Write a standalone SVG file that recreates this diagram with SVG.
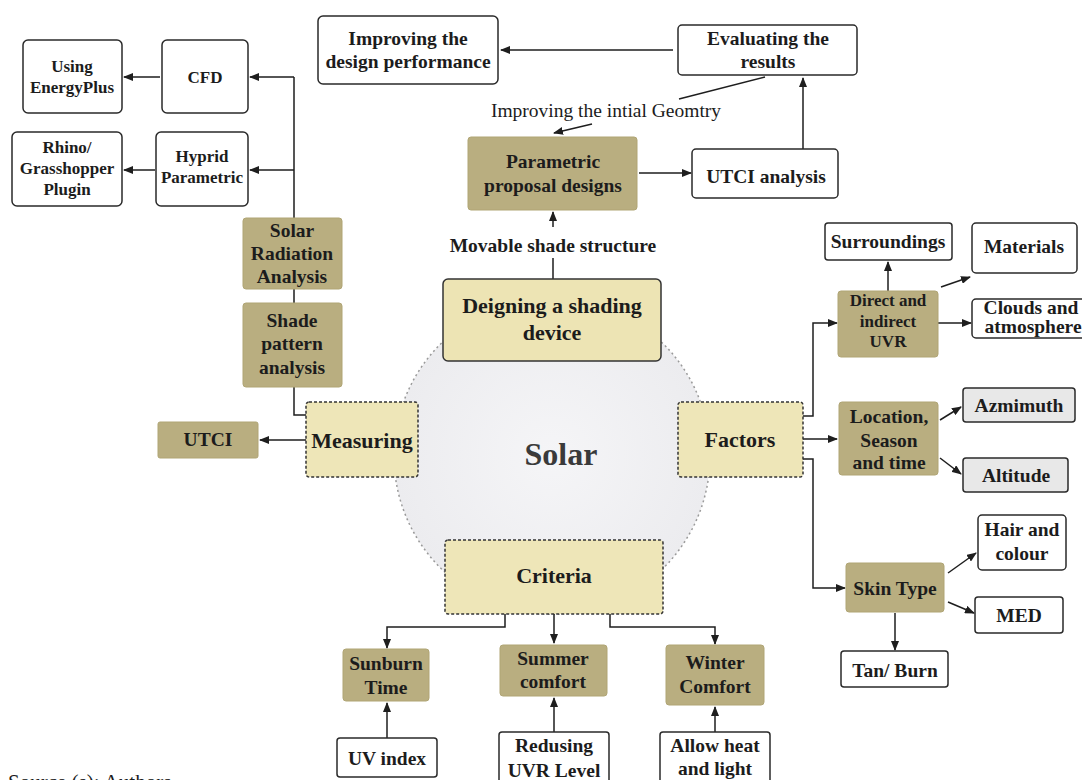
<svg xmlns="http://www.w3.org/2000/svg" width="1082" height="780" viewBox="0 0 1082 780">
<defs>
<marker id="ar" markerUnits="userSpaceOnUse" markerWidth="10" markerHeight="8" refX="9" refY="4" orient="auto">
<path d="M0,0 L10,4 L0,8 z" fill="#1e1e1e"/>
</marker>
<radialGradient id="cg" cx="0.5" cy="0.5" r="0.5">
<stop offset="0" stop-color="#f5f5f7"/>
<stop offset="1" stop-color="#ececef"/>
</radialGradient>
<style>
text{font-family:"Liberation Serif","Times New Roman",serif;font-weight:bold;fill:#1c1c1c;text-anchor:middle}
.t{font-size:19.5px}
.s{font-size:17px}
.b{font-size:22px}
.r{font-weight:normal}
.w{fill:#fff;stroke:#2a2a2a;stroke-width:1.5}
.g{fill:#e8e8e8;stroke:#2a2a2a;stroke-width:1.5}
.k{fill:#b9ae80;stroke:#b0a575;stroke-width:1}
.y{fill:#eee6b8;stroke:#333;stroke-width:1.5;stroke-dasharray:3 2}
.ys{fill:#ede4b4;stroke:#333;stroke-width:1.5}
#connectors path{fill:none;stroke:#1e1e1e;stroke-width:1.5}
#connectors .a{marker-end:url(#ar)}
</style>
</defs>
<rect width="1082" height="780" fill="#ffffff"/>

<g id="circle">
<circle cx="552" cy="456" r="158" fill="url(#cg)" stroke="#9a9a9a" stroke-width="1.5" stroke-dasharray="2 3"/>
<text x="561" y="465" style="font-size:32px;fill:#3a3a3a">Solar</text>
</g>

<g id="connectors">
<path class="a" d="M673,50 L501,50"/>
<path d="M765,77 L679,99"/>
<path class="a" d="M592,124 L554,133"/>
<path class="a" d="M803,149 L803,78"/>
<path class="a" d="M639,173 L691,173"/>
<path d="M553,279 L553,258"/>
<path class="a" d="M553,227 L553,212"/>
<path d="M294,77 L294,218 M294,289 L294,303 M294,387 L294,415 L306,415"/>
<path class="a" d="M294,77 L250,77"/>
<path class="a" d="M294,170 L250,170"/>
<path class="a" d="M160,77 L124,77"/>
<path class="a" d="M155,170 L124,170"/>
<path class="a" d="M306,440 L260,440"/>
<path class="a" d="M803,416 L813,416 L813,323 L837,323"/>
<path class="a" d="M803,439 L837,439"/>
<path class="a" d="M803,459 L813,459 L813,588 L845,588"/>
<path class="a" d="M888,291 L888,262"/>
<path class="a" d="M941,287 L970,277"/>
<path class="a" d="M938,323 L971,323"/>
<path class="a" d="M940,420 L961,407"/>
<path class="a" d="M940,458 L961,474"/>
<path class="a" d="M948,573 L976,553"/>
<path class="a" d="M948,602 L974,613"/>
<path class="a" d="M895,613 L895,650"/>
<path class="a" d="M505,614 L505,627 L387,627 L387,648"/>
<path class="a" d="M554,614 L554,643"/>
<path class="a" d="M610,614 L610,627 L715,627 L715,644"/>
<path class="a" d="M387,738 L387,703"/>
<path class="a" d="M554,732 L554,698"/>
<path class="a" d="M715,732 L715,707"/>
</g>

<g id="improving-design">
<rect class="w" x="318" y="16" width="180" height="68" rx="5"/>
<text class="t" x="408" y="45">Improving the</text>
<text class="t" x="408" y="68">design performance</text>
</g>
<g id="evaluating">
<rect class="w" x="678" y="25" width="179" height="50" rx="4"/>
<text class="t" x="768" y="45">Evaluating the</text>
<text class="t" x="768" y="68">results</text>
</g>
<g id="geometry-label">
<text class="t r" x="606" y="117">Improving the intial Geomtry</text>
</g>
<g id="parametric">
<rect class="k" x="468" y="137" width="169" height="73" rx="3"/>
<text class="t" x="553" y="168">Parametric</text>
<text class="t" x="553" y="192">proposal designs</text>
</g>
<g id="utci-analysis">
<rect class="w" x="692" y="149" width="146" height="49" rx="4"/>
<text class="t" x="766" y="183">UTCI analysis</text>
</g>
<g id="movable-label">
<text class="t" x="553" y="252">Movable shade structure</text>
</g>
<g id="deigning">
<rect class="ys" x="443" y="279" width="218" height="82" rx="5"/>
<text class="b" x="552" y="313">Deigning a shading</text>
<text class="b" x="552" y="340">device</text>
</g>

<g id="using-energyplus">
<rect class="w" x="23" y="40" width="99" height="73" rx="5"/>
<text class="s" x="72" y="72">Using</text>
<text class="s" x="72" y="93">EnergyPlus</text>
</g>
<g id="cfd">
<rect class="w" x="162" y="40" width="86" height="73" rx="5"/>
<text class="s" x="205" y="83">CFD</text>
</g>
<g id="rhino">
<rect class="w" x="12" y="132" width="110" height="74" rx="5"/>
<text class="s" x="67" y="153">Rhino/</text>
<text class="s" x="67" y="174">Grasshopper</text>
<text class="s" x="67" y="195">Plugin</text>
</g>
<g id="hyprid">
<rect class="w" x="156" y="132" width="92" height="74" rx="5"/>
<text class="s" x="202" y="162">Hyprid</text>
<text class="s" x="202" y="183">Parametric</text>
</g>
<g id="solar-radiation">
<rect class="k" x="243" y="218" width="99" height="71" rx="3"/>
<text class="t" x="292" y="237">Solar</text>
<text class="t" x="292" y="260">Radiation</text>
<text class="t" x="292" y="283">Analysis</text>
</g>
<g id="shade-pattern">
<rect class="k" x="243" y="303" width="99" height="84" rx="3"/>
<text class="t" x="292" y="327">Shade</text>
<text class="t" x="292" y="350">pattern</text>
<text class="t" x="292" y="374">analysis</text>
</g>
<g id="measuring">
<rect class="y" x="306" y="402" width="112" height="75" rx="3"/>
<text class="b" x="362" y="448">Measuring</text>
</g>
<g id="utci">
<rect class="k" x="158" y="422" width="100" height="36" rx="2"/>
<text class="t" x="208" y="446">UTCI</text>
</g>

<g id="factors">
<rect class="y" x="678" y="402" width="125" height="75" rx="3"/>
<text class="b" x="740" y="447">Factors</text>
</g>
<g id="surroundings">
<rect class="w" x="825" y="223" width="127" height="37" rx="3"/>
<text class="t" x="888" y="248">Surroundings</text>
</g>
<g id="materials">
<rect class="w" x="972" y="223" width="105" height="50" rx="4"/>
<text class="t" x="1024" y="253">Materials</text>
</g>
<g id="direct-uvr">
<rect class="k" x="838" y="291" width="100" height="66" rx="3"/>
<text class="s" x="888" y="306">Direct and</text>
<text class="s" x="888" y="327">indirect</text>
<text class="s" x="888" y="347">UVR</text>
</g>
<g id="clouds">
<rect class="w" x="972" y="299" width="116" height="39" rx="4"/>
<text class="t" x="1031" y="314">Clouds and</text>
<text class="t" x="1033" y="333">atmosphere</text>
</g>
<g id="location">
<rect class="k" x="839" y="402" width="99" height="73" rx="3"/>
<text class="t" x="889" y="423">Location,</text>
<text class="t" x="889" y="447">Season</text>
<text class="t" x="889" y="469">and time</text>
</g>
<g id="azmimuth">
<rect class="g" x="963" y="388" width="112" height="34" rx="3"/>
<text class="t" x="1019" y="412">Azmimuth</text>
</g>
<g id="altitude">
<rect class="g" x="963" y="458" width="105" height="34" rx="3"/>
<text class="t" x="1016" y="482">Altitude</text>
</g>
<g id="skin-type">
<rect class="k" x="846" y="563" width="98" height="49" rx="3"/>
<text class="t" x="895" y="595">Skin Type</text>
</g>
<g id="hair">
<rect class="w" x="978" y="515" width="88" height="55" rx="4"/>
<text class="t" x="1022" y="536">Hair and</text>
<text class="t" x="1022" y="560">colour</text>
</g>
<g id="med">
<rect class="w" x="975" y="597" width="88" height="36" rx="3"/>
<text class="t" x="1019" y="622">MED</text>
</g>
<g id="tan-burn">
<rect class="w" x="841" y="651" width="107" height="36" rx="3"/>
<text class="t" x="895" y="677">Tan/ Burn</text>
</g>

<g id="criteria">
<rect class="y" x="445" y="540" width="218" height="74" rx="3"/>
<text class="b" x="554" y="583">Criteria</text>
</g>
<g id="sunburn">
<rect class="k" x="343" y="649" width="86" height="52" rx="3"/>
<text class="t" x="386" y="670">Sunburn</text>
<text class="t" x="386" y="694">Time</text>
</g>
<g id="summer">
<rect class="k" x="500" y="645" width="107" height="51" rx="3"/>
<text class="t" x="553" y="665">Summer</text>
<text class="t" x="553" y="688">comfort</text>
</g>
<g id="winter">
<rect class="k" x="666" y="645" width="98" height="60" rx="3"/>
<text class="t" x="715" y="669">Winter</text>
<text class="t" x="715" y="693">Comfort</text>
</g>
<g id="uv-index">
<rect class="w" x="337" y="738" width="100" height="39" rx="3"/>
<text class="t" x="387" y="765">UV index</text>
</g>
<g id="redusing">
<rect class="w" x="499" y="732" width="110" height="60" rx="3"/>
<text class="t" x="554" y="752">Redusing</text>
<text class="t" x="554" y="777">UVR Level</text>
</g>
<g id="allow-heat">
<rect class="w" x="660" y="732" width="110" height="60" rx="3"/>
<text class="t" x="715" y="752">Allow heat</text>
<text class="t" x="715" y="775">and light</text>
</g>

<g id="source">
<text x="8" y="789" style="font-size:21px;font-weight:normal;text-anchor:start">Source (s): Authors</text>
</g>
</svg>
